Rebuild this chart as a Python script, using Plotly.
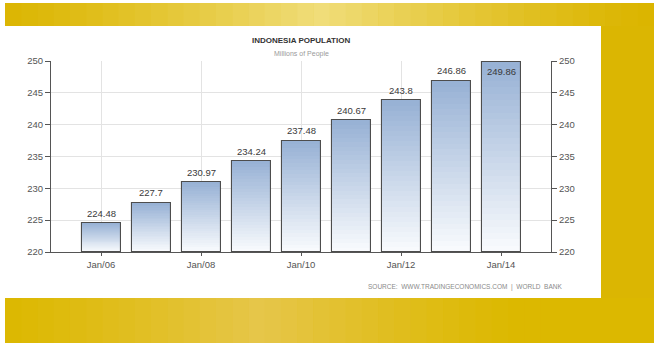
import plotly.graph_objects as go

# ---- data ----
years = [2006, 2007, 2008, 2009, 2010, 2011, 2012, 2013, 2014]
population = [224.48, 227.7, 230.97, 234.24, 237.48, 240.67, 243.8, 246.86, 249.86]
value_labels = ["224.48", "227.7", "230.97", "234.24", "237.48", "240.67", "243.8", "246.86", "249.86"]
tick_years = [2006, 2008, 2010, 2012, 2014]
tick_labels = ["Jan/06", "Jan/08", "Jan/10", "Jan/12", "Jan/14"]
y_ticks = [220, 225, 230, 235, 240, 245, 250]

W, H = 654, 343
L, R, T, B = 51, 103, 61, 91
PW, PH = W - L - R, H - T - B
Y0, Y1 = 220, 250


def px(x):
    return (x - L) / PW


def py(y):
    return (H - B - y) / PH


def hex2rgb(h):
    h = h.lstrip("#")
    return [int(h[i:i + 2], 16) for i in (0, 2, 4)]


def mix(a, b, t):
    a, b = hex2rgb(a), hex2rgb(b)
    return "rgb(%d,%d,%d)" % tuple(round(a[i] + (b[i] - a[i]) * t) for i in range(3))


shapes = []
# gold background
shapes.append(dict(type="rect", xref="paper", yref="paper", layer="below",
                   x0=px(5), x1=px(W), y0=py(3), y1=py(H),
                   fillcolor="#dbb602", line_width=0))
# top band gradient
n = 40
for i in range(n):
    xa = 5 + (W - 5) * i / n
    xb = 5 + (W - 5) * (i + 1) / n + 0.5
    xc = (xa + xb) / 2
    t = max(0.0, 1 - abs(xc - 320) / 330) ** 1.3
    shapes.append(dict(type="rect", xref="paper", yref="paper", layer="below",
                       x0=px(xa), x1=px(xb), y0=py(3), y1=py(26),
                       fillcolor=mix("#dbb500", "#f0dd7a", t), line_width=0))
# bottom band gradient
for i in range(n):
    xa = 5 + (W - 5) * i / n
    xb = 5 + (W - 5) * (i + 1) / n + 0.5
    xc = (xa + xb) / 2
    t = max(0.0, 1 - abs(xc - 260) / 260) ** 1.2
    shapes.append(dict(type="rect", xref="paper", yref="paper", layer="below",
                       x0=px(xa), x1=px(xb), y0=py(298), y1=py(H),
                       fillcolor=mix("#dcb800", "#e6c64a", t), line_width=0))
# white panel
shapes.append(dict(type="rect", xref="paper", yref="paper", layer="below",
                   x0=px(0), x1=px(601), y0=py(26), y1=py(298),
                   fillcolor="white", line_width=0))
# left white strip
shapes.append(dict(type="rect", xref="paper", yref="paper", layer="below",
                   x0=px(0), x1=px(5), y0=py(0), y1=py(H),
                   fillcolor="white", line_width=0))

fig = go.Figure()

# gradient bars via overlaid layers
N = 30
top_c, bot_c = "#98b2d5", "#f8fafd"
for i in range(N):
    frac = 1 - i / N
    fig.add_trace(go.Bar(
        x=years, y=[frac * (v - Y0) for v in population], base=Y0,
        width=0.78, marker_color=mix(top_c, bot_c, i / (N - 1)),
        marker_line_width=0, showlegend=False, hoverinfo="skip"))

# outline
fig.add_trace(go.Bar(
    x=years, y=[v - Y0 for v in population], base=Y0, width=0.78,
    marker_color="rgba(0,0,0,0)", marker_line_color="#4d4d4d",
    marker_line_width=1.1, showlegend=False, yaxis="y2", hoverinfo="skip"))

axis_font = dict(family="Liberation Sans", size=9.5, color="#555555")
label_font = dict(family="Liberation Sans", size=9.5, color="#3a3a3a")

annotations = []
for i, (yr, v, lab) in enumerate(zip(years, population, value_labels)):
    last = i == len(years) - 1
    annotations.append(dict(
        x=yr, y=v, xref="x", yref="y", text=lab, showarrow=False,
        xanchor="center", yanchor="middle", yshift=-10 if last else 10,
        font=label_font))

annotations += [
    dict(text="<b>INDONESIA POPULATION</b>", xref="paper", yref="paper",
         x=0.5, y=py(41), xanchor="center", yanchor="middle",
         showarrow=False,
         font=dict(family="Liberation Sans", size=8, color="#333333")),
    dict(text="Millions of People", xref="paper", yref="paper",
         x=0.5, y=py(54), xanchor="center", yanchor="middle",
         showarrow=False,
         font=dict(family="Liberation Sans", size=7, color="#9a9a9a")),
    dict(text="SOURCE:  WWW.TRADINGECONOMICS.COM  |  WORLD  BANK",
         xref="paper", yref="paper", x=px(564), y=py(287),
         xanchor="right", yanchor="middle", showarrow=False,
         font=dict(family="Liberation Sans", size=6.5, color="#8a8a8a")),
]

fig.update_layout(
    width=W, height=H,
    margin=dict(l=L, r=R, t=T, b=B),
    paper_bgcolor="white", plot_bgcolor="rgba(0,0,0,0)",
    barmode="overlay", bargap=0,
    shapes=shapes,
    xaxis=dict(range=[2005, 2015], tickvals=tick_years, ticktext=tick_labels,
               showgrid=True, gridcolor="#e3e3e3", gridwidth=1,
               showline=True, linecolor="#555555", linewidth=1.2,
               ticks="outside", ticklen=3, tickcolor="#555555",
               tickfont=axis_font, zeroline=False),
    yaxis=dict(range=[Y0, Y1], tickvals=y_ticks, showgrid=True,
               gridcolor="#e3e3e3", gridwidth=1, showline=True,
               linecolor="#555555", linewidth=1.2, ticks="outside",
               ticklen=5, tickcolor="#555555", tickfont=axis_font,
               zeroline=False),
    yaxis2=dict(range=[Y0, Y1], tickvals=y_ticks, overlaying="y", side="right",
                showgrid=False, showline=True, linecolor="#555555",
                linewidth=1.2, ticks="outside", ticklen=5,
                tickcolor="#555555", tickfont=axis_font, zeroline=False),
    annotations=annotations,
)

fig.write_html("out.html")
